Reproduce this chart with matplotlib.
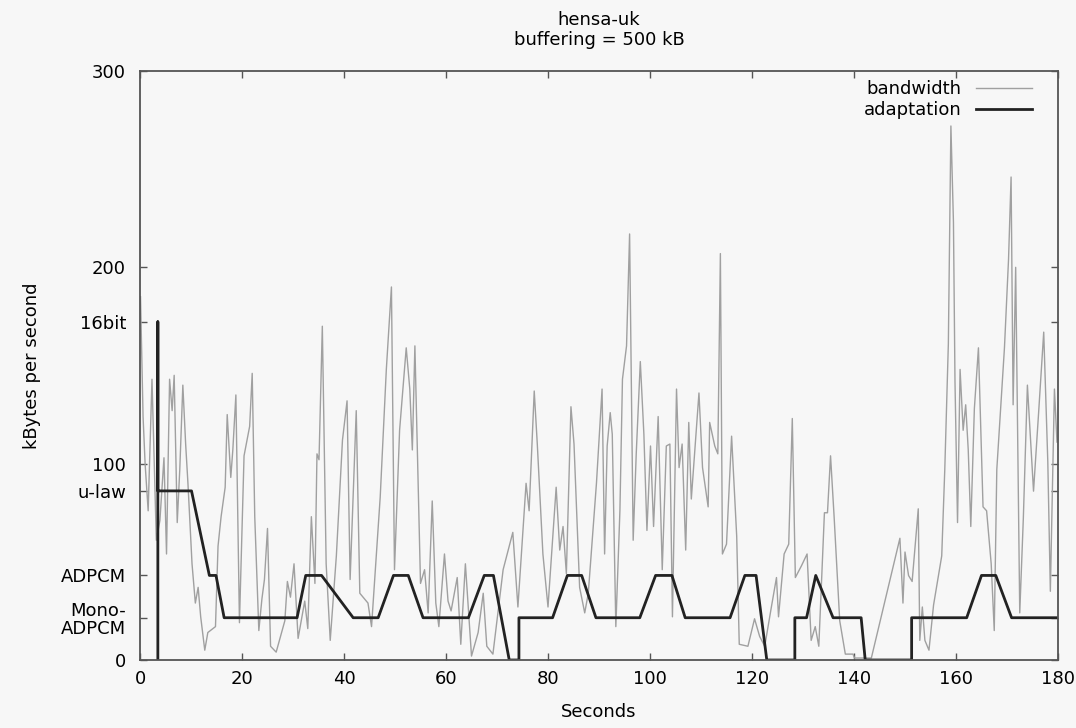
import matplotlib
matplotlib.use('Agg')
import matplotlib.pyplot as plt

plt.rcParams['font.family'] = ['DejaVu Sans']

# audio encoding rates in kBytes per second
MONO_ADPCM = 21.53
ADPCM = 43.07
ULAW = 86.13
BIT16 = 172.27

# measured bandwidth (seconds, kB/s)
bw_t = [0.1, 0.6, 1.0, 1.6, 2.35, 2.9, 3.2, 3.9, 4.7, 5.2, 5.8, 6.3, 6.7, 7.3, 7.8, 8.4, 8.95, 9.4,
        10.2, 10.85, 11.4, 11.9, 12.7, 13.3, 14.8, 15.3, 15.9, 16.7, 17.1, 17.8, 18.2, 18.8, 19.5,
        20.4, 21.5, 22.0, 22.5, 23.3, 23.9, 24.4, 25.0, 25.6, 26.7, 28.4, 28.9, 29.5, 30.2, 31.0,
        32.3, 32.9, 33.6, 34.3, 34.7, 35.1, 35.75, 36.5, 37.3, 38.5, 39.7, 40.6, 41.2, 42.4, 43.1,
        44.7, 45.4, 47.1, 48.3, 49.3, 49.9, 50.9, 52.2, 52.9, 53.4, 53.9, 55.0, 55.8, 56.5, 57.3,
        58.0, 58.6, 59.7, 60.4, 61.0, 62.2, 62.9, 63.8, 65.0, 66.3, 67.3, 68.0, 69.2, 71.2, 73.1,
        74.1, 75.7, 76.3, 77.3, 77.9, 79.0, 80.0, 81.6, 82.3, 82.95, 83.6, 84.5, 85.1, 86.2, 87.2,
        87.9, 89.5, 90.6, 91.1, 91.6, 92.2, 92.6, 93.3, 94.1, 94.6, 95.4, 96.0, 96.7, 97.3, 98.1,
        98.8, 99.4, 100.1, 100.7, 101.6, 102.4, 103.2, 103.9, 104.4, 105.2, 105.7, 106.3, 107.0,
        107.6, 108.1, 109.6, 110.3, 111.4, 111.7, 112.7, 113.3, 113.8, 114.2, 115.0, 116.0, 117.0,
        117.5, 119.2, 120.5, 121.5, 122.5, 123.8, 124.8, 125.2, 126.3, 127.2, 127.9, 128.5, 129.7,
        130.8, 131.6, 132.4, 133.1, 134.2, 134.8, 135.4, 136.1, 137.2, 138.3, 139.8, 140.1, 143.4,
        149.0, 149.6, 150.0, 150.7, 151.4, 152.6, 152.9, 153.4, 153.9, 154.7, 155.6, 157.2, 157.8,
        158.5, 159.0, 159.5, 159.8, 160.3, 160.8, 161.4, 161.9, 162.4, 162.9, 163.6, 164.4, 165.3,
        166.0, 166.9, 167.5, 168.0, 169.5, 170.3, 170.8, 171.2, 171.7, 172.5, 173.2, 174.0, 175.2,
        176.2, 177.2, 178.0, 178.5, 179.3, 179.8]
bw_v = [185, 124, 100, 76, 143, 90, 61, 71, 103, 54, 143, 127, 145, 70, 97, 140, 110, 90,
        49, 29, 37, 22, 5, 14, 17, 58, 73, 88, 125, 93, 107, 135, 19,
        104, 119, 146, 73, 15, 31, 41, 67, 7, 4, 20, 40, 32, 49, 11,
        30, 16, 73, 39, 105, 102, 170, 49, 10, 53, 112, 132, 41, 127, 34,
        29, 17, 83, 148, 190, 46, 117, 159, 138, 107, 160, 39, 46, 24, 81,
        29, 17, 54, 30, 25, 42, 8, 49, 2, 14, 34, 7, 3, 46, 65,
        27, 90, 76, 137, 110, 54, 27, 88, 56, 68, 44, 129, 110, 37, 24,
        34, 90, 138, 54, 109, 126, 115, 17, 76, 143, 160, 217, 61, 105, 152,
        115, 66, 109, 68, 124, 46, 109, 110, 22, 138, 98, 110, 56,
        121, 82, 136, 98, 78, 121, 109, 105, 207, 54, 59, 114, 63,
        8, 7, 21, 12, 7, 27, 42, 22, 54, 59, 123, 42, 48,
        54, 10, 17, 7, 75, 75, 104, 73, 20, 3, 3, 1, 1,
        62, 29, 55, 43, 40, 77, 10, 27, 10, 5, 28, 53, 97,
        161, 272, 223, 142, 70, 148, 117, 130, 107, 68, 128, 159, 78,
        76, 49, 15, 97, 159, 204, 246, 130, 200, 24, 72, 140, 86,
        126, 167, 101, 35, 138, 111]

# chosen encoding over time
ad_t = [3.5, 3.5, 3.5, 10.1, 13.6, 14.9, 16.5, 30.8, 32.5, 35.6, 41.8, 46.7, 49.7, 52.6, 55.5,
        64.4, 67.5, 69.3, 72.4, 74.3, 74.3, 80.9, 83.8, 86.6, 89.4, 98.0, 101.1, 104.3, 106.9,
        115.7, 118.6, 120.8, 122.9, 128.4, 128.4, 130.7, 132.5, 135.9, 141.4, 142.2, 151.3,
        151.3, 162.1, 165.0, 167.8, 170.9, 179.7]
ad_v = [0, BIT16, ULAW, ULAW, ADPCM, ADPCM, MONO_ADPCM, MONO_ADPCM, ADPCM, ADPCM,
        MONO_ADPCM, MONO_ADPCM, ADPCM, ADPCM, MONO_ADPCM, MONO_ADPCM, ADPCM, ADPCM, 0, 0,
        MONO_ADPCM, MONO_ADPCM, ADPCM, ADPCM, MONO_ADPCM, MONO_ADPCM, ADPCM, ADPCM,
        MONO_ADPCM, MONO_ADPCM, ADPCM, ADPCM, 0, 0, MONO_ADPCM, MONO_ADPCM, ADPCM,
        MONO_ADPCM, MONO_ADPCM, 0, 0, MONO_ADPCM, MONO_ADPCM, ADPCM, ADPCM, MONO_ADPCM,
        MONO_ADPCM]

ytick_vals = [0, MONO_ADPCM, ADPCM, ULAW, 100, BIT16, 200, 300]
ytick_labels = ['0', 'Mono-\nADPCM', 'ADPCM', 'u-law', '100', '16bit', '200', '300']
xtick_vals = list(range(0, 181, 20))

fs = 13
bg = '#f7f7f7'
fig = plt.figure(figsize=(10.76, 7.28), dpi=100, facecolor=bg)
ax = fig.add_axes([140/1076, 1 - 660/728, 918/1076, 589/728], facecolor=bg)

ax.plot(bw_t, bw_v, color='#a0a0a0', lw=1.0, label='bandwidth')
ax.plot(ad_t, ad_v, color='#222222', lw=2.0, label='adaptation')

ax.set_xlim(0, 180)
ax.set_ylim(0, 300)
ax.set_xticks(xtick_vals)
ax.set_yticks(ytick_vals)
ax.set_yticklabels(ytick_labels, linespacing=1.0)
ax.tick_params(direction='in', length=5, width=1, color='#555555', labelsize=fs,
               top=True, right=True)
ax.tick_params(axis='x', pad=7)
ax.tick_params(axis='y', pad=10)
for s in ax.spines.values():
    s.set_color('#555555')
    s.set_linewidth(1.3)

ax.set_xlabel('Seconds', fontsize=fs)
ax.xaxis.set_label_coords(0.5, -0.073)
ax.set_ylabel('kBytes per second', fontsize=fs)
ax.yaxis.set_label_coords(-0.108, 0.5)

fig.text(599/1076, 1 - 30/728, 'hensa-uk\nbuffering = 500 kB', fontsize=fs,
         ha='center', va='center', linespacing=1.15)

ax.legend(loc='upper right', bbox_to_anchor=(0.9717, 0.984), markerfirst=False,
          frameon=False, fontsize=fs, handlelength=3.1, handletextpad=0.8,
          borderaxespad=0, borderpad=0, labelspacing=0.15)

fig.savefig('out.png', dpi=100, facecolor=bg)
